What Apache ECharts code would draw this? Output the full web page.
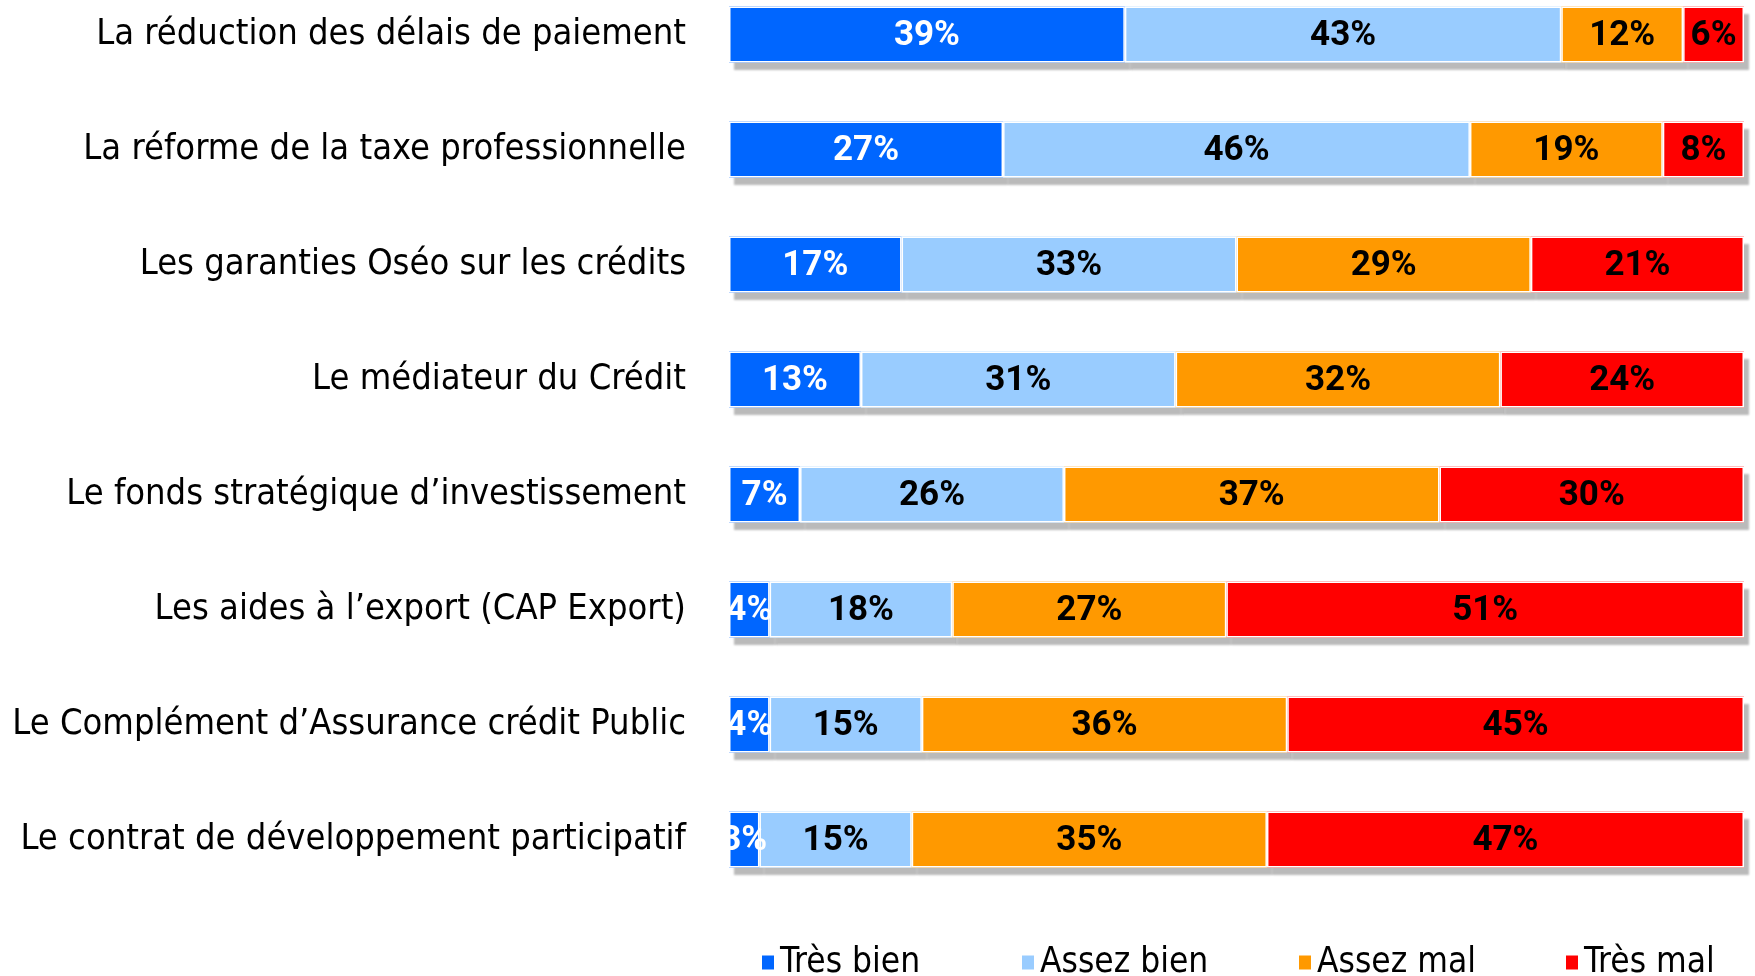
<!DOCTYPE html>
<html>
<head>
<meta charset="utf-8">
<script src="https://cdn.jsdelivr.net/npm/echarts@6/dist/echarts.min.js"></script>
<style>
  html, body { margin: 0; padding: 0; background: #fff; }
  #chart { width: 1755px; height: 976px; }
</style>
</head>
<body>
<div id="chart"></div>
<script>
const categories = [
  'La réduction des délais de paiement',
  'La réforme de la taxe professionnelle',
  'Les garanties Oséo sur les crédits',
  'Le médiateur du Crédit',
  'Le fonds stratégique d’investissement',
  'Les aides à l’export (CAP Export)',
  'Le Complément d’Assurance crédit Public',
  'Le contrat de développement participatif'
]
const seriesNames = ['Très bien', 'Assez bien', 'Assez mal', 'Très mal']
const tresBien = [39, 27, 17, 13, 7, 4, 4, 3]
const assezBien = [43, 46, 33, 31, 26, 18, 15, 15]
const assezMal = [12, 19, 29, 32, 37, 27, 36, 35]
const tresMal = [6, 8, 21, 24, 30, 51, 45, 47]

const colors = ['#0066ff', '#99ccff', '#ff9900', '#ff0000']
const labelColors = ['#ffffff', '#000000', '#000000', '#000000']
const FONT = '"DejaVu Sans Condensed", "DejaVu Sans", sans-serif'
const LABEL_FONT = 'Roboto, "DejaVu Sans Condensed", sans-serif'

const chart = echarts.init(document.getElementById('chart'))

const values = [tresBien, assezBien, assezMal, tresMal]

// grey drop shadow under the bars (drawn first, no labels)
const shadowSeries = values.map((data, i) => ({
  name: 'ombre' + i,
  type: 'bar',
  stack: 'ombre',
  barWidth: 56,
  barGap: '-100%',
  clip: false,
  silent: true,
  data,
  itemStyle: {
    color: colors[i],
    shadowColor: 'rgba(0,0,0,0.27)',
    shadowBlur: 2,
    shadowOffsetX: 5,
    shadowOffsetY: 7
  }
}))

const mainSeries = values.map((data, i) => ({
  name: seriesNames[i],
  type: 'bar',
  stack: 'total',
  barWidth: 56,
  barGap: '-100%',
  clip: false,
  data,
  itemStyle: {
    color: colors[i],
    borderColor: '#ffffff',
    borderWidth: 1.5
  },
  label: {
    show: true,
    position: 'inside',
    formatter: '{c}%',
    color: labelColors[i],
    fontFamily: LABEL_FONT,
    fontWeight: 'bold',
    fontSize: 35,
    offset: [0, 2]
  }
}))

// one legend per item so each sits where the original put it
const legendLeft = [755, 1015, 1292, 1559]
const legends = seriesNames.map((name, i) => ({
  data: [name],
  left: legendLeft[i],
  top: 940,
  icon: 'rect',
  itemWidth: 14,
  itemHeight: 16,
  itemGap: 0,
  textStyle: { fontFamily: FONT, fontSize: 35, color: '#000' }
}))

chart.setOption({
  animation: false,
  legend: legends,
  grid: {
    left: 729,
    right: 11,
    top: 34.5,
    height: 805
  },
  xAxis: {
    type: 'value',
    min: 0,
    max: 100,
    show: false
  },
  yAxis: {
    type: 'category',
    inverse: true,
    boundaryGap: false,
    data: categories,
    axisLine: { show: false },
    axisTick: { show: false },
    axisLabel: {
      margin: 43,
      color: '#000',
      fontFamily: FONT,
      fontSize: 36
    }
  },
  series: shadowSeries.concat(mainSeries)
})
</script>
</body>
</html>
